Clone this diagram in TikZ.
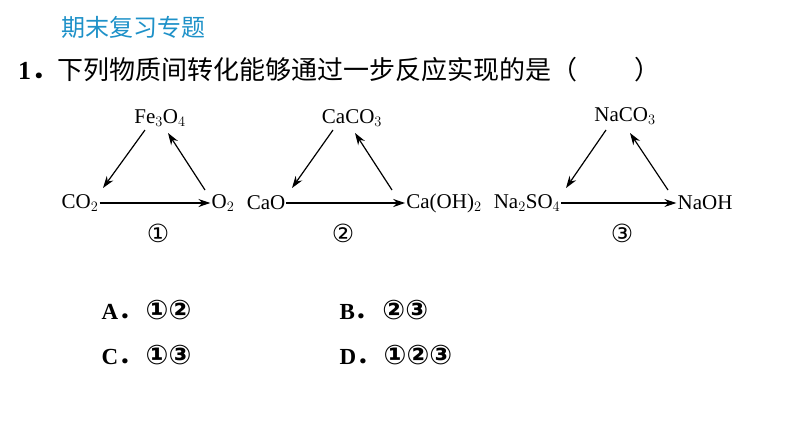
\documentclass[tikz,border=0pt]{standalone}
\usepackage{fontspec}
\setmainfont{Liberation Serif}
\newfontfamily\cjk{Noto Sans CJK SC}
\newfontfamily\symb{DejaVu Sans}
\usetikzlibrary{arrows.meta}
\definecolor{headblue}{RGB}{30,145,200}
\tikzset{
  chem/.style={inner sep=1pt, font=\fontsize{21}{24}\selectfont},
  numlab/.style={font=\symb\fontsize{25}{28}\selectfont},
  react/.style={-{Stealth[length=12pt,width=8pt]}, line width=1.2pt},
  choice/.style={anchor=west, font=\fontsize{23}{26}\selectfont}
}
\newcommand{\circnum}[1]{{\symb\bfseries\fontsize{27}{28}\selectfont #1}}
\begin{document}
\begin{tikzpicture}[x=1pt,y=-1pt]
\useasboundingbox (0,0) rectangle (794,447);
\node[anchor=west, inner sep=0pt, text=headblue, font=\cjk\fontsize{24}{28}\selectfont] (Head) at (61,27) {期末复习专题};
\node[anchor=west, inner sep=0pt, font=\fontsize{26}{30}\selectfont] (Title) at (18,70) {\textbf{1}{\cjk\bfseries ．}{\cjk 下列物质间转化能够通过一步反应实现的是（\hspace{2.2em}）}};
% triangle 1
\node[chem] (Fe) at (160,118) {Fe$_3$O$_4$};
\node[chem] (CO) at (80,203) {CO$_2$};
\node[chem] (Ox) at (223,203) {O$_2$};
\node[numlab] (N1) at (158,233) {①};
\draw[react] (145,130) -- (103,188);
\draw[react] (205,190) -- (168,133);
\draw[react] (CO) -- (Ox);
% triangle 2
\node[chem] (Cc) at (352,118) {CaCO$_3$};
\node[chem] (Co) at (266,203) {CaO};
\node[chem] (Ch) at (444,203) {Ca(OH)$_2$};
\node[numlab] (N2) at (343,233) {②};
\draw[react] (333,130) -- (292,188);
\draw[react] (392,190) -- (355,133);
\draw[react] (Co) -- (Ch);
% triangle 3
\node[chem] (Nc) at (625,116) {NaCO$_3$};
\node[chem] (Ns) at (527,203) {Na$_2$SO$_4$};
\node[chem] (Nh) at (705,203) {NaOH};
\node[numlab] (N3) at (622,233) {③};
\draw[react] (606,130) -- (566,188);
\draw[react] (668,190) -- (630,133);
\draw[react] (Ns) -- (Nh);
% choices
\node[choice] (A) at (98,310) {\textbf{A}{\cjk\bfseries ．}\hspace{0.2em}\circnum{①②}};
\node[choice] (B) at (336,310) {\textbf{B}{\cjk\bfseries ．}\hspace{0.2em}\circnum{②③}};
\node[choice] (C) at (98,355) {\textbf{C}{\cjk\bfseries ．}\hspace{0.2em}\circnum{①③}};
\node[choice] (D) at (336,355) {\textbf{D}{\cjk\bfseries ．}\hspace{0.2em}\circnum{①②③}};
\end{tikzpicture}
\end{document}
